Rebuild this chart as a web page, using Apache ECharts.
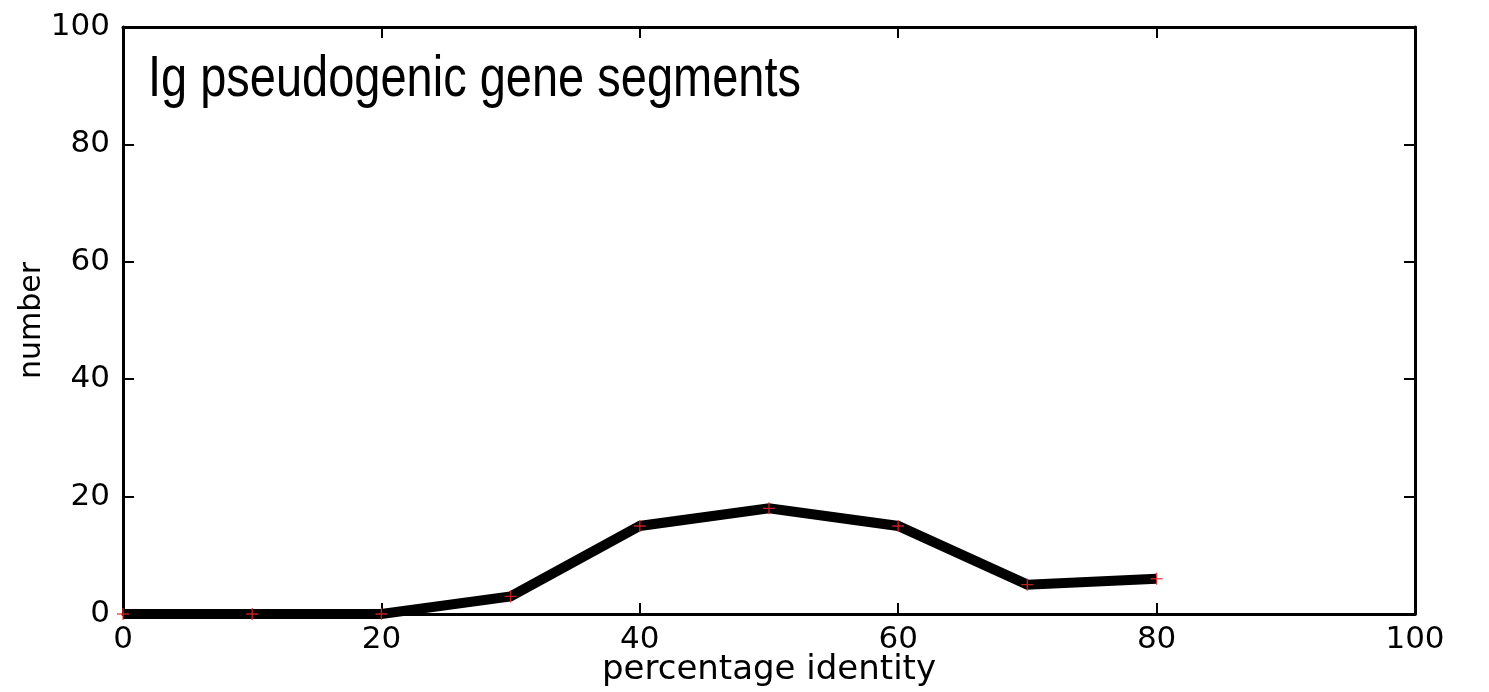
<!DOCTYPE html>
<html>
<head>
<meta charset="utf-8">
<script src="https://cdn.jsdelivr.net/npm/echarts@6/dist/echarts.min.js"></script>
<style>
  html, body { margin: 0; padding: 0; background: #fff; }
  #chart { width: 1489px; height: 692px; }
</style>
</head>
<body>
<div id="chart"></div>
<script>
  // percentage identity vs number of Ig pseudogenic gene segments
  const identity = [0, 10, 20, 30, 40, 50, 60, 70, 80];
  const counts = [0, 0, 0, 3, 15, 18, 15, 5, 6];
  const xTicks = [0, 20, 40, 60, 80, 100];
  const yTicks = [0, 20, 40, 60, 80, 100];

  const points = identity.map((x, i) => [x, counts[i]]);
  const tickFont = { fontFamily: 'DejaVu Sans', fontSize: 31, color: '#000' };

  const chart = echarts.init(document.getElementById('chart'));

  // gnuplot style frame: ticks inside on all four sides
  const frameAxis = () => ({
    min: xTicks[0],
    max: xTicks[xTicks.length - 1],
    interval: 20,
    axisLine: { show: true, onZero: false, lineStyle: { color: '#000', width: 3 } },
    axisTick: { show: true, inside: true, length: 11, lineStyle: { color: '#000', width: 2 } },
    splitLine: { show: false }
  });

  const option = {
    animation: false,
    backgroundColor: '#fff',
    grid: { left: 123, right: 74, top: 27, bottom: 78, containLabel: false, outerBoundsMode: 'none' },
    graphic: [
      {
        type: 'text',
        left: 148,
        top: 51,
        scaleX: 0.81,
        style: {
          text: 'Ig pseudogenic gene segments',
          font: '58px "Liberation Sans", Arial, sans-serif',
          fill: '#000'
        }
      }
    ],
    xAxis: [
      Object.assign(frameAxis(), {
        type: 'value', position: 'bottom',
        name: 'percentage identity', nameLocation: 'middle', nameGap: 39, nameMoveOverlap: false,
        nameTextStyle: { fontFamily: 'DejaVu Sans', fontSize: 34, color: '#000' },
        axisLabel: Object.assign({ margin: 10 }, tickFont)
      }),
      Object.assign(frameAxis(), {
        type: 'value', position: 'top', axisLabel: { show: false }
      })
    ],
    yAxis: [
      Object.assign(frameAxis(), {
        type: 'value', position: 'left',
        min: yTicks[0], max: yTicks[yTicks.length - 1],
        name: 'number', nameLocation: 'middle', nameGap: 76, nameRotate: 90, nameMoveOverlap: false,
        nameTextStyle: { fontFamily: 'DejaVu Sans', fontSize: 30, color: '#000' },
        axisLabel: Object.assign({ margin: 13 }, tickFont)
      }),
      Object.assign(frameAxis(), {
        type: 'value', position: 'right',
        min: yTicks[0], max: yTicks[yTicks.length - 1],
        axisLabel: { show: false }
      })
    ],
    series: [
      {
        type: 'line',
        data: points,
        showSymbol: false,
        lineStyle: { color: '#000', width: 10, cap: 'butt', join: 'miter' },
        z: 2
      },
      {
        type: 'scatter',
        data: points,
        symbol: 'path://M0,5L10,5M5,0L5,10',
        symbolSize: 12,
        itemStyle: { color: 'none', borderColor: '#f02828', borderWidth: 1.4 },
        z: 3
      }
    ]
  };

  chart.setOption(option);
</script>
</body>
</html>
